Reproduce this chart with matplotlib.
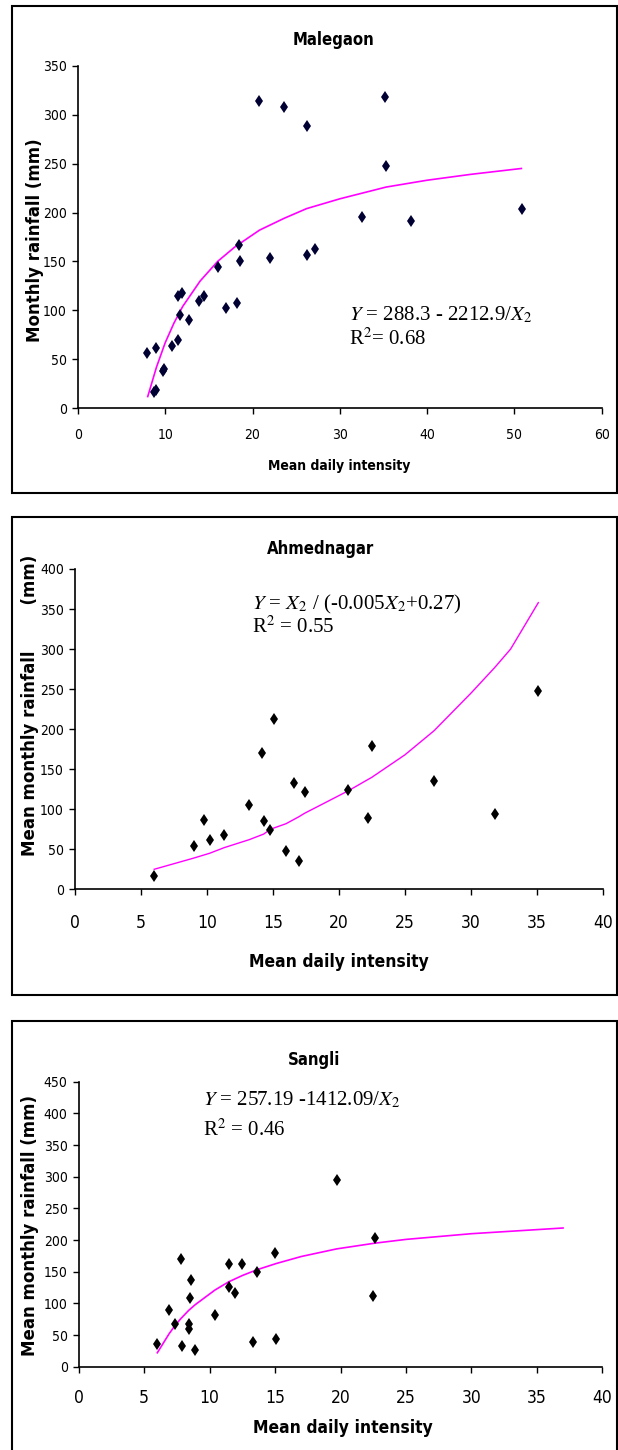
import numpy as np
import matplotlib
matplotlib.use("Agg")
import matplotlib.pyplot as plt
from matplotlib.patches import Rectangle

W, H = 618, 1450
NARROW = ['DejaVu Sans']
SERIF = ['Liberation Serif', 'DejaVu Serif']

# Malegaon
mal_x = [20.8, 23.6, 26.2, 35.2, 35.3, 32.5, 38.2, 50.9, 18.5, 27.2, 16.0, 18.6, 22.0, 26.2,
         11.5, 11.9, 11.7, 12.7, 13.9, 14.4, 17.0, 18.2, 11.5, 10.8, 7.9, 8.9, 9.9, 9.7, 8.7, 8.9]
mal_y = [314, 308, 288, 318, 248, 195, 191, 204, 167, 163, 144, 150, 154, 157,
         115, 118, 95, 90, 110, 115, 102, 108, 70, 64, 57, 62, 40, 38, 17, 19]
mal_cx = [8.0, 9.0, 10.0, 11.0, 12.0, 14.0, 16.0, 18.0, 20.8, 23.6, 26.2, 30.0, 35.3, 40.0, 45.0, 50.8]
mal_cy = [12, 42, 67, 87, 104, 130, 150, 165, 182, 194, 204, 214, 226, 233, 239, 245]

# Ahmednagar
ahm_x = [6.0, 9.0, 9.8, 10.2, 11.3, 13.2, 14.2, 14.3, 14.8, 16.0, 16.6, 17.0, 17.4,
         20.7, 22.2, 22.5, 27.2, 31.8, 15.1, 35.1]
ahm_y = [17, 54, 87, 61, 68, 105, 170, 85, 74, 48, 133, 35, 122,
         124, 89, 179, 135, 94, 213, 248]
ahm_cx = [6.0, 9.0, 10.2, 11.3, 13.2, 14.3, 14.8, 16.0, 17.0, 17.4, 20.7, 22.5, 25.0, 27.2, 30.0, 31.8, 33.0, 35.1]
ahm_cy = [25, 39, 45, 52, 62, 69, 75, 82, 91, 95, 123, 140, 168, 198, 245, 277, 300, 358]

# Sangli
san_x = [6.0, 6.9, 7.35, 7.8, 7.9, 8.4, 8.45, 8.5, 8.6, 8.9, 10.4, 11.45, 11.45, 11.9,
         12.5, 13.3, 13.6, 15.0, 15.1, 22.5, 22.6, 19.7]
san_y = [36, 89, 67, 170, 32, 67, 60, 109, 137, 27, 82, 162, 126, 116,
         162, 39, 149, 180, 44, 112, 204, 295]
san_cx = [6.0, 6.9, 7.35, 7.8, 8.4, 8.9, 10.4, 11.45, 12.5, 13.6, 15.1, 17.0, 19.7, 22.6, 25.0, 30.0, 37.0]
san_cy = [22, 52, 65, 76, 89, 98, 121, 134, 144, 153, 163, 174, 186, 195, 201, 210, 219]


def fx(x):
    return x / W


def fy(y):
    return 1 - y / H


def make_axes(fig, x0, x1, y_bot, y_top):
    return fig.add_axes([fx(x0), fy(y_bot), fx(x1) - fx(x0), (y_bot - y_top) / H])


def style(ax, xmax, ymax, xstep, ystep, xfs, yfs):
    ax.set_xlim(0, xmax)
    ax.set_ylim(0, ymax)
    ax.set_xticks(np.arange(0, xmax + 1, xstep))
    ax.set_yticks(np.arange(0, ymax + 1, ystep))
    for s in ['top', 'right']:
        ax.spines[s].set_visible(False)
    for s in ['left', 'bottom']:
        ax.spines[s].set_linewidth(1.2)
    ax.tick_params(direction='out', length=4, width=1, pad=4)
    for t in ax.get_xticklabels():
        t.set_family(NARROW)
        t.set_fontstretch('condensed')
        t.set_fontsize(xfs)
    for t in ax.get_yticklabels():
        t.set_family(NARROW)
        t.set_fontstretch('condensed')
        t.set_fontsize(yfs)


fig = plt.figure(figsize=(W / 100, H / 100), dpi=100)

# frames
for (top, bot) in [(5.7, 493), (516.7, 995), (1021, 1460)]:
    fig.patches.append(Rectangle((fx(12), fy(bot)), fx(617) - fx(12), (bot - top) / H,
                                 transform=fig.transFigure, fill=False, lw=1.5, ec='black'))

# Malegaon
ax1 = make_axes(fig, 77.9, 601.7, 408.3, 65.7)
ax1.plot(mal_cx, mal_cy, color='#ff00ff', lw=1.2, zorder=2)
ax1.plot(mal_x, mal_y, 'd', color='#000033', ms=6, mew=0, zorder=3)
style(ax1, 60, 350, 10, 50, 10, 10)
ax1.tick_params(axis='x', pad=10)
fig.text(fx(334), fy(40), 'Malegaon', ha='center', va='center', family=NARROW,
         fontstretch='condensed', fontsize=12, fontweight='bold')
fig.text(fx(339), fy(466), 'Mean daily intensity', ha='center', va='center', family=NARROW,
         fontstretch='condensed', fontsize=10, fontweight='bold')
fig.text(fx(35), fy(240), 'Monthly rainfall (mm)', ha='center', va='center', rotation=90,
         fontsize=12, fontweight='bold', family=['DejaVu Sans'])
fig.text(fx(349), fy(315), r'$Y$ = 288.3 - 2212.9/$X$$_2$', ha='left', va='center', family=SERIF,
         fontsize=15, math_fontfamily='stix')
fig.text(fx(349), fy(339), r'R$^2$= 0.68', ha='left', va='center', family=SERIF,
         fontsize=15, math_fontfamily='stix')

# Ahmednagar
ax2 = make_axes(fig, 75, 603, 889.3, 569)
ax2.plot(ahm_cx, ahm_cy, color='#ff00ff', lw=1.0, zorder=2)
ax2.plot(ahm_x, ahm_y, 'd', color='black', ms=6, mew=0, zorder=3)
style(ax2, 40, 400, 5, 50, 12.5, 10)
ax2.tick_params(axis='x', pad=14)
fig.text(fx(321), fy(549), 'Ahmednagar', ha='center', va='center', family=NARROW,
         fontstretch='condensed', fontsize=12, fontweight='bold')
fig.text(fx(339), fy(962), 'Mean daily intensity', ha='center', va='center', family=NARROW,
         fontstretch='condensed', fontsize=12.5, fontweight='bold')
fig.text(fx(30), fy(705), 'Mean monthly rainfall        (mm)', ha='center', va='center', rotation=90,
         fontsize=12, fontweight='bold', family=['DejaVu Sans'])
fig.text(fx(252), fy(604), r'$Y$ = $X$$_2$ / (-0.005$X$$_2$+0.27)', ha='left', va='center',
         family=SERIF, fontsize=15, math_fontfamily='stix')
fig.text(fx(252), fy(627), r'R$^2$ = 0.55', ha='left', va='center', family=SERIF,
         fontsize=15, math_fontfamily='stix')

# Sangli
ax3 = make_axes(fig, 78.8, 602.3, 1366.7, 1081.7)
ax3.plot(san_cx, san_cy, color='#ff00ff', lw=1.2, zorder=2)
ax3.plot(san_x, san_y, 'd', color='black', ms=6, mew=0, zorder=3)
style(ax3, 40, 450, 5, 50, 12.5, 10)
ax3.tick_params(axis='x', pad=12)
fig.text(fx(314), fy(1060), 'Sangli', ha='center', va='center', family=NARROW,
         fontstretch='condensed', fontsize=12, fontweight='bold')
fig.text(fx(343), fy(1428), 'Mean daily intensity', ha='center', va='center', family=NARROW,
         fontstretch='condensed', fontsize=12.5, fontweight='bold')
fig.text(fx(30), fy(1225), 'Mean monthly rainfall (mm)', ha='center', va='center', rotation=90,
         fontsize=12, fontweight='bold', family=['DejaVu Sans'])
fig.text(fx(203), fy(1100), r'$Y$ = 257.19 -1412.09/$X$$_2$', ha='left', va='center',
         family=SERIF, fontsize=15, math_fontfamily='stix')
fig.text(fx(203), fy(1130), r'R$^2$ = 0.46', ha='left', va='center', family=SERIF,
         fontsize=15, math_fontfamily='stix')

fig.savefig('out.png', dpi=100)
